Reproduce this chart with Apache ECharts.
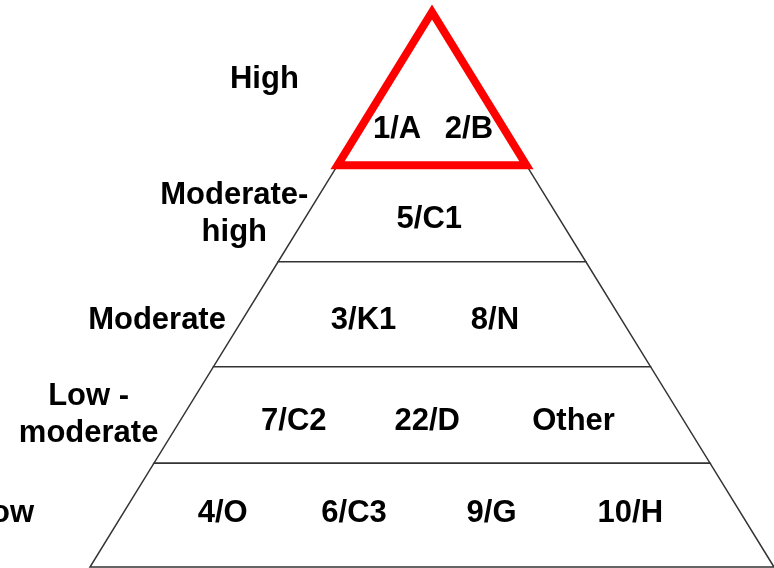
<!DOCTYPE html>
<html>
<head>
<meta charset="utf-8">
<script src="https://cdn.jsdelivr.net/npm/echarts@6/dist/echarts.min.js"></script>
<style>
  html, body { margin: 0; padding: 0; background: #fff; }
  #myChart { width: 774px; height: 568px; }
</style>
</head>
<body>
<div id="myChart"></div>
<script>
// tier boundaries, as depth from the apex (0) to the base (100)
var tierTop = [0, 27.6, 45.0, 63.9, 81.3];
var tierBottom = [27.6, 45.0, 63.9, 81.3, 100];

// level names on the left of the pyramid
var levelNames = ['High', 'Moderate-\nhigh', 'Moderate', 'Low -\nmoderate', 'Low'];
var levelX = [-24.5, -28.9, -40.2, -50.2, -62.7];
var levelY = [12.2, 36.3, 55.5, 72.6, 90.4];

// items inside each tier
var itemNames = ['1/A', '2/B', '5/C1', '3/K1', '8/N', '7/C2', '22/D', 'Other', '4/O', '6/C3', '9/G', '10/H'];
var itemX = [-5.1, 5.4, -0.4, -10.0, 9.2, -20.2, -0.7, 20.7, -30.6, -11.4, 8.7, 29.0];
var itemY = [21.2, 21.2, 37.3, 55.5, 55.5, 73.8, 73.8, 73.8, 90.4, 90.4, 90.4, 90.4];

var textStyle = {
  fontFamily: 'Liberation Sans, Arial, sans-serif',
  fontWeight: 'bold',
  fontSize: 31,
  color: '#000',
  opacity: 1,
  textBorderWidth: 0
};

function toPoints(list, xs, ys) {
  return list.map(function (name, i) {
    return { name: name, value: [xs[i], ys[i]] };
  });
}

var tiers = tierTop.map(function (t, i) {
  return [t, tierBottom[i]];
});

var myChart = echarts.init(document.getElementById('myChart'));
myChart.setOption({
  animation: false,
  grid: { left: 90, top: 12, width: 687, height: 555 },
  xAxis: { type: 'value', min: -50, max: 50, show: false },
  yAxis: { type: 'value', min: 0, max: 100, inverse: true, show: false },
  series: [
    {
      type: 'custom',
      clip: false,
      data: tiers,
      renderItem: function (params, api) {
        var top = api.value(0);
        var bot = api.value(1);
        var pts = [
          api.coord([-top / 2, top]),
          api.coord([top / 2, top]),
          api.coord([bot / 2, bot]),
          api.coord([-bot / 2, bot])
        ];
        var isTop = params.dataIndex === 0;
        if (isTop) {
          pts = [api.coord([0, top]), pts[2], pts[3]];
        }
        return {
          type: 'polygon',
          z2: isTop ? 10 : 1,
          shape: { points: pts },
          style: {
            fill: '#fff',
            stroke: isTop ? '#ff0000' : '#333',
            lineWidth: isTop ? 8 : 1.5,
            lineJoin: 'miter'
          }
        };
      }
    },
    {
      type: 'scatter',
      clip: false,
      symbolSize: 0,
      z: 5,
      itemStyle: { opacity: 1 },
      data: toPoints(levelNames, levelX, levelY),
      label: Object.assign({
        show: true,
        position: 'inside',
        formatter: '{b}',
        align: 'center',
        verticalAlign: 'middle',
        lineHeight: 37
      }, textStyle)
    },
    {
      type: 'scatter',
      clip: false,
      symbolSize: 0,
      z: 5,
      itemStyle: { opacity: 1 },
      data: toPoints(itemNames, itemX, itemY),
      label: Object.assign({
        show: true,
        position: 'inside',
        formatter: '{b}',
        align: 'center',
        verticalAlign: 'middle'
      }, textStyle)
    }
  ]
});
</script>
</body>
</html>
